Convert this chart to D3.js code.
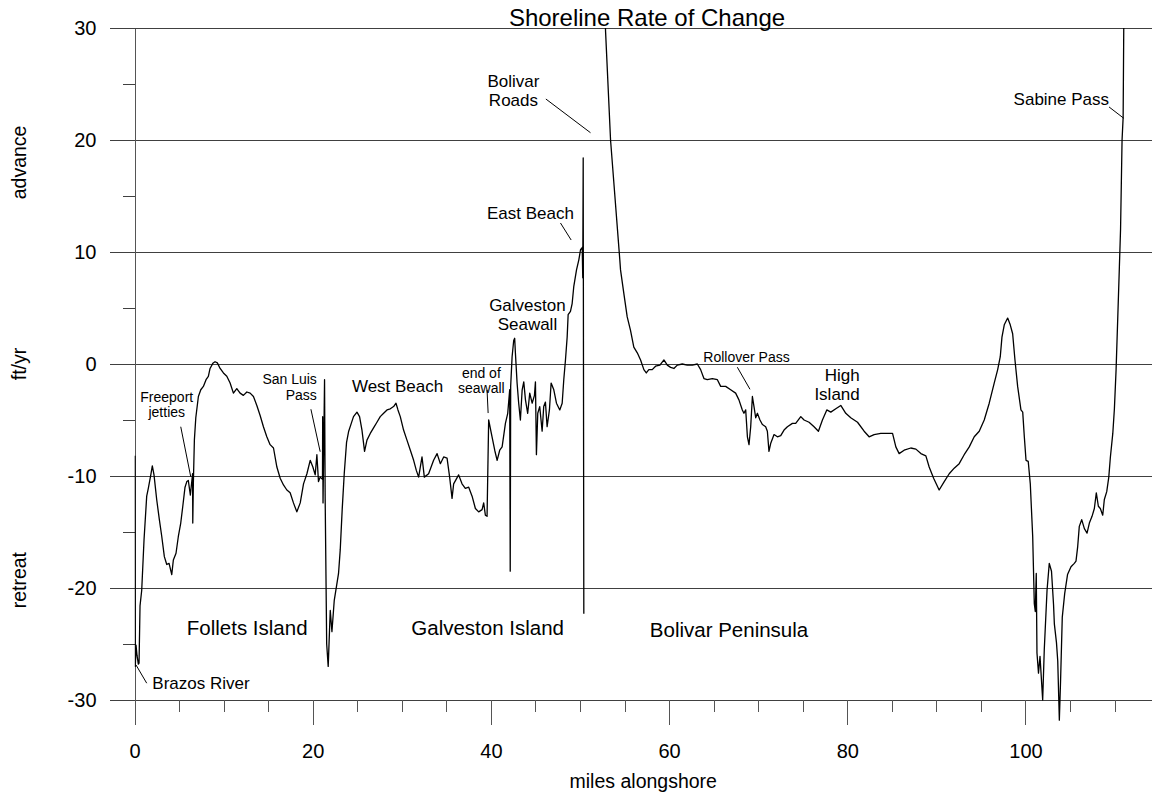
<!DOCTYPE html>
<html lang="en">
<head>
    <meta charset="UTF-8">
    <script src="https://cdnjs.cloudflare.com/ajax/libs/d3/7.8.5/d3.min.js"></script>
    <title>Shoreline Rate of Change</title>
    <style>
        body {
            margin: 0;
            background: white;
        }
        svg text {
            font-family: 'Liberation Sans', Arial, sans-serif;
            fill: black;
        }
        .grid line {
            stroke: #404040;
            stroke-width: 1px;
        }
        .rate {
            fill: none;
            stroke: black;
            stroke-width: 1.3px;
            stroke-linejoin: round;
        }
        .leader {
            stroke: black;
            stroke-width: 1px;
        }
    </style>
</head>

<body>
    <div id="chart"></div>

    <script>
        // [miles alongshore, ft/yr]
        // Brazos River to Bolivar Roads (Follets + Galveston islands)
        const westOfBolivarRoads = [
            [0.06, -8.2], [0.09, -27.0], [0.17, -25.1], [0.28, -26.0], [0.43, -26.8], [0.51, -26.7],
            [0.62, -21.6], [0.81, -20.2], [1.07, -15.7], [1.37, -11.8], [1.55, -11.1], [1.85, -9.8],
            [2.00, -9.1], [2.19, -9.9], [2.49, -12.1], [2.79, -13.9], [3.06, -15.4], [3.35, -17.2],
            [3.62, -17.9], [3.88, -17.8], [4.18, -18.8], [4.36, -17.5], [4.66, -16.9], [4.92, -15.4],
            [5.19, -14.2], [5.42, -12.7], [5.67, -11.0], [5.87, -10.5], [6.04, -10.4], [6.27, -11.7],
            [6.52, -9.8], [6.54, -14.2], [6.61, -10.5], [6.72, -6.8], [6.88, -4.8], [7.17, -2.9],
            [7.44, -2.3], [7.73, -2.0], [8.03, -1.4], [8.29, -1.1], [8.48, -0.4], [8.79, 0.06],
            [9.04, 0.2], [9.30, 0.1], [9.61, -0.4], [9.98, -0.8], [10.36, -1.1], [10.73, -1.7],
            [11.10, -2.6], [11.48, -2.2], [11.85, -2.6], [12.22, -2.8], [12.61, -2.5], [12.98, -2.6],
            [13.35, -2.9], [13.73, -3.7], [14.10, -4.6], [14.47, -5.6], [14.85, -6.5], [15.22, -7.2],
            [15.60, -7.5], [15.98, -9.2], [16.35, -10.2], [16.72, -10.8], [17.10, -11.25], [17.47, -11.5],
            [17.84, -12.4], [18.22, -13.2], [18.60, -12.4], [18.97, -10.7], [19.35, -9.8], [19.72, -8.6],
            [20.02, -9.2], [20.28, -9.9], [20.47, -8.1], [20.65, -10.5], [20.84, -10.1], [21.10, -10.3],
            [21.12, -4.7], [21.16, -12.4], [21.33, -1.4], [21.40, -12.0], [21.57, -25.0], [21.74, -27.0],
            [21.97, -22.0], [22.16, -23.9], [22.42, -21.1], [22.90, -18.7], [23.09, -16.6], [23.31, -13.0],
            [23.54, -9.8], [23.80, -7.0], [24.04, -6.0], [24.33, -5.3], [24.58, -4.7], [24.97, -4.3],
            [25.26, -4.7], [25.53, -5.9], [25.82, -7.8], [26.09, -6.8], [26.46, -6.2], [26.83, -5.7],
            [27.21, -5.2], [27.58, -4.7], [27.96, -4.4], [28.34, -4.1], [28.71, -4.0], [29.08, -3.8],
            [29.35, -3.5], [29.57, -4.1], [29.83, -4.7], [30.20, -5.9], [30.58, -6.8], [30.96, -7.7],
            [31.33, -8.6], [31.63, -9.5], [31.89, -10.1], [32.27, -8.3], [32.53, -10.1], [33.01, -9.8],
            [33.57, -8.6], [33.96, -8.0], [34.33, -8.9], [34.70, -8.3], [35.08, -8.4], [35.37, -10.1],
            [35.64, -12.0], [35.82, -10.7], [36.38, -9.9], [36.76, -10.7], [37.13, -11.1], [37.51, -11.0],
            [37.89, -11.8], [38.26, -12.9], [38.63, -13.2], [39.01, -13.0], [39.19, -12.4], [39.38, -13.5],
            [39.57, -13.6], [39.75, -5.0], [40.13, -6.5], [40.43, -7.7], [40.70, -8.6], [40.99, -7.7],
            [41.26, -7.4], [41.63, -5.3], [41.89, -4.4], [42.11, -2.3], [42.17, -18.5], [42.22, -2.0],
            [42.38, 0.65], [42.56, 2.1], [42.67, 2.3], [42.75, 1.0], [42.94, -1.7], [43.12, -3.5],
            [43.31, -5.0], [43.51, -2.3], [43.69, -1.6], [43.88, -3.2], [44.13, -4.4], [44.36, -2.6],
            [44.63, -3.5], [44.89, -2.8], [45.00, -1.6], [45.11, -8.1], [45.26, -4.4], [45.48, -3.8],
            [45.75, -6.0], [45.93, -3.8], [46.12, -3.4], [46.31, -5.6], [46.57, -4.1], [46.76, -1.7],
            [47.06, -2.3], [47.36, -3.5], [47.73, -4.1], [48.00, -3.5], [48.18, -1.4], [48.37, 0.36],
            [48.56, 2.4], [48.67, 4.4], [48.93, 4.7], [49.12, 5.4], [49.30, 6.9], [49.61, 8.4],
            [49.87, 9.3], [50.06, 10.2], [50.25, 10.4], [50.31, 7.7], [50.36, 18.4], [50.43, -22.3]
        ];

        // Bolivar Roads to Sabine Pass (Bolivar Peninsula and beyond)
        const eastOfBolivarRoads = [
            [52.70, 35.0], [52.87, 29.7], [53.43, 20.0], [54.47, 9.3], [54.55, 8.4], [54.92, 6.3],
            [55.30, 4.2], [55.67, 3.0], [56.04, 1.5], [56.43, 1.0], [56.80, 0.36], [57.17, -0.5],
            [57.44, -0.8], [57.73, -0.5], [58.11, -0.5], [58.48, -0.2], [58.97, -0.1], [59.42, 0.36],
            [59.80, -0.1], [60.17, -0.3], [60.54, -0.4], [60.92, -0.1], [61.48, 0.0], [62.04, -0.1],
            [62.61, -0.1], [63.17, 0.0], [63.54, -0.5], [63.91, -1.3], [64.29, -1.4], [64.85, -1.3],
            [65.42, -1.4], [65.79, -2.0], [66.35, -2.0], [66.91, -2.3], [67.47, -2.6], [67.84, -3.2],
            [68.22, -4.1], [68.40, -4.4], [68.60, -4.1], [68.79, -6.5], [68.97, -7.2], [69.16, -5.6],
            [69.35, -2.9], [69.53, -3.8], [69.72, -4.8], [69.91, -4.4], [70.20, -5.0], [70.47, -5.4],
            [70.84, -5.6], [71.03, -6.0], [71.21, -7.8], [71.40, -7.1], [71.78, -6.3], [72.16, -6.5],
            [72.53, -6.4], [72.90, -5.9], [73.28, -5.6], [73.84, -5.3], [74.21, -5.3], [74.78, -4.7],
            [75.15, -5.0], [75.71, -5.2], [76.27, -5.6], [76.76, -6.0], [77.21, -5.0], [77.70, -4.1],
            [78.15, -4.3], [78.71, -4.0], [79.27, -3.7], [79.83, -4.4], [80.39, -4.8], [81.15, -5.2],
            [81.89, -6.0], [82.45, -6.5], [83.01, -6.3], [83.76, -6.2], [84.52, -6.2], [85.08, -6.2],
            [85.45, -7.4], [85.82, -8.0], [86.38, -7.7], [87.13, -7.5], [87.70, -7.6], [88.26, -8.0],
            [88.82, -8.2], [89.19, -9.2], [89.69, -10.2], [90.31, -11.25], [90.88, -10.5], [91.44, -9.8],
            [92.00, -9.3], [92.56, -8.9], [93.12, -8.1], [93.69, -7.4], [94.25, -6.5], [94.81, -6.0],
            [95.37, -5.0], [95.93, -3.5], [96.49, -1.7], [96.88, -0.5], [97.17, 0.65], [97.36, 2.4],
            [97.62, 3.5], [98.00, 4.1], [98.29, 3.5], [98.56, 2.7], [98.82, 0.36], [99.12, -2.0],
            [99.49, -4.1], [99.69, -4.3], [99.87, -6.5], [100.06, -8.6], [100.31, -8.7], [100.54, -10.7],
            [100.81, -15.4], [100.99, -21.4], [101.10, -22.1], [101.21, -18.7], [101.29, -25.8], [101.46, -27.6],
            [101.63, -26.1], [101.93, -30.0], [102.11, -25.5], [102.42, -20.2], [102.67, -17.8], [102.92, -18.5],
            [103.15, -21.5], [103.24, -23.2], [103.48, -24.9], [103.62, -26.5], [103.73, -29.7], [103.80, -31.8],
            [103.93, -28.5], [104.13, -22.6], [104.40, -20.5], [104.72, -18.8], [105.11, -18.1], [105.48, -17.8],
            [105.67, -17.6], [105.86, -16.3], [106.04, -14.5], [106.31, -13.9], [106.61, -14.7], [106.91, -15.1],
            [107.17, -14.2], [107.47, -13.6], [107.73, -12.9], [107.95, -11.5], [108.18, -12.7], [108.40, -12.9],
            [108.67, -13.5], [108.85, -12.1], [109.12, -11.4], [109.35, -10.1], [109.53, -8.3], [109.80, -6.2],
            [109.98, -4.0], [110.17, -0.5], [110.36, 4.2], [110.54, 8.7], [110.67, 12.0], [110.84, 20.0],
            [110.96, 22.0], [111.03, 30.0], [111.07, 35.0]
        ];

        const yMajorTicks = [-30, -20, -10, 0, 10, 20, 30];
        const yMinorTicks = [-25, -15, -5, 5, 15, 25];
        const xMajorTicks = [0, 20, 40, 60, 80, 100];
        const xMinorTicks = [5, 10, 15, 25, 30, 35, 45, 50, 55, 65, 70, 75, 85, 90, 95, 105, 110];

        // labels on the chart, anchored at [mile, ft/yr]
        const placeLabels = [
            { lines: ["Bolivar", "Roads"], mile: 42.53, rate: 24.73, anchor: "middle", kind: "mid" },
            { lines: ["East Beach"], mile: 44.44, rate: 12.95, anchor: "middle", kind: "mid" },
            { lines: ["Sabine Pass"], mile: 109.38, rate: 23.13, anchor: "end", kind: "mid" },
            { lines: ["Galveston", "Seawall"], mile: 44.1, rate: 4.76, anchor: "middle", kind: "mid" },
            { lines: ["end of", "seawall"], mile: 38.93, rate: -1.22, anchor: "middle", kind: "small" },
            { lines: ["West Beach"], mile: 24.4, rate: -2.47, anchor: "start", kind: "mid" },
            { lines: ["San Luis", "Pass"], mile: 20.47, rate: -1.81, anchor: "end", kind: "small" },
            { lines: ["Freeport", "jetties"], mile: 3.62, rate: -3.37, anchor: "middle", kind: "small" },
            { lines: ["Rollover Pass"], mile: 63.84, rate: 0.15, anchor: "start", kind: "small" },
            { lines: ["High", "Island"], mile: 81.4, rate: -1.52, anchor: "end", kind: "mid" },
            { lines: ["Brazos River"], mile: 2.0, rate: -29.06, anchor: "start", kind: "mid" },
            { lines: ["Follets Island"], mile: 5.87, rate: -24.2, anchor: "start", kind: "big" },
            { lines: ["Galveston Island"], mile: 31.07, rate: -24.2, anchor: "start", kind: "big" },
            { lines: ["Bolivar Peninsula"], mile: 57.84, rate: -24.35, anchor: "start", kind: "big" }
        ];

        const leaderLines = [
            [[46.17, 23.66], [51.18, 20.65]],
            [[47.81, 12.59], [49.01, 11.07]],
            [[109.38, 22.95], [111.03, 21.94]],
            [[39.57, -2.32], [39.69, -4.38]],
            [[19.8, -4.04], [20.84, -7.83]],
            [[5.19, -5.6], [6.31, -10.06]],
            [[67.66, -0.29], [69.08, -2.26]],
            [[0.17, -26.87], [1.37, -28.5]]
        ];

        const fontSizes = { small: 14, mid: 17, big: 20.5 };

        const width = 1154;
        const height = 795;
        const margin = { top: 28, right: 2, bottom: 95, left: 134.5 };

        const svg = d3.select("#chart").append("svg")
            .attr("width", width)
            .attr("height", height);

        const x = d3.scaleLinear()
            .domain([0, 114.2])
            .range([margin.left, width - margin.right]);

        const y = d3.scaleLinear()
            .domain([-30, 30])
            .range([height - margin.bottom, margin.top]);

        // plain hyphen for negatives, like the original
        const plainNumber = d => String(d);

        // horizontal grid, starting at the end of the long ticks
        svg.append("g")
            .attr("class", "grid")
            .selectAll("line")
            .data(yMajorTicks)
            .join("line")
            .attr("x1", margin.left - 25)
            .attr("x2", width - margin.right)
            .attr("y1", d => y(d))
            .attr("y2", d => y(d))
            .attr("shape-rendering", "crispEdges");

        // y axis
        const yAxis = svg.append("g")
            .attr("transform", `translate(${margin.left},0)`)
            .call(d3.axisLeft(y).tickValues(yMajorTicks).tickFormat(plainNumber)
                .tickSize(25).tickSizeOuter(0).tickPadding(13));
        yAxis.select(".domain").attr("stroke", "#555").attr("shape-rendering", "crispEdges");
        yAxis.selectAll(".tick line").attr("stroke", "#404040").attr("shape-rendering", "crispEdges");
        yAxis.selectAll(".tick text").style("font-size", "20px").style("font-family", "'Liberation Sans', Arial, sans-serif");

        svg.append("g")
            .attr("transform", `translate(${margin.left},0)`)
            .call(d3.axisLeft(y).tickValues(yMinorTicks).tickSize(12).tickFormat(""))
            .call(g => g.select(".domain").remove())
            .selectAll(".tick line").attr("stroke", "#404040").attr("shape-rendering", "crispEdges");

        // x axis
        const xAxis = svg.append("g")
            .attr("transform", `translate(0,${y(-30)})`)
            .call(d3.axisBottom(x).tickValues(xMajorTicks).tickFormat(plainNumber)
                .tickSize(25).tickSizeOuter(0).tickPadding(19));
        xAxis.select(".domain").remove();
        xAxis.selectAll(".tick line").attr("stroke", "#555").attr("shape-rendering", "crispEdges");
        xAxis.selectAll(".tick text").style("font-size", "20px").style("font-family", "'Liberation Sans', Arial, sans-serif");

        svg.append("g")
            .attr("transform", `translate(0,${y(-30)})`)
            .call(d3.axisBottom(x).tickValues(xMinorTicks).tickSize(12).tickFormat(""))
            .call(g => g.select(".domain").remove())
            .selectAll(".tick line").attr("stroke", "#555").attr("shape-rendering", "crispEdges");

        // clip only the top, the trace dips below -30 near mile 104
        svg.append("clipPath")
            .attr("id", "plot-clip")
            .append("rect")
            .attr("x", margin.left)
            .attr("y", margin.top)
            .attr("width", width - margin.left - margin.right)
            .attr("height", height - margin.top);

        const rateLine = d3.line()
            .x(d => x(d[0]))
            .y(d => y(d[1]));

        svg.append("g")
            .attr("clip-path", "url(#plot-clip)")
            .selectAll("path")
            .data([westOfBolivarRoads, eastOfBolivarRoads])
            .join("path")
            .attr("class", "rate")
            .attr("d", rateLine);

        // leaders
        svg.append("g")
            .selectAll("line")
            .data(leaderLines)
            .join("line")
            .attr("class", "leader")
            .attr("x1", d => x(d[0][0]))
            .attr("y1", d => y(d[0][1]))
            .attr("x2", d => x(d[1][0]))
            .attr("y2", d => y(d[1][1]));

        // place names
        const labels = svg.append("g")
            .selectAll("text")
            .data(placeLabels)
            .join("text")
            .attr("text-anchor", d => d.anchor)
            .style("font-size", d => fontSizes[d.kind] + "px")
            .attr("x", d => x(d.mile))
            .attr("y", d => y(d.rate));

        labels.selectAll("tspan")
            .data(d => d.lines.map((t, i) => ({ t, i, d })))
            .join("tspan")
            .attr("x", o => x(o.d.mile))
            .attr("dy", o => o.i === 0 ? 0 : "1.12em")
            .text(o => o.t);

        // title and axis titles
        svg.append("text")
            .attr("x", 647)
            .attr("y", 26)
            .attr("text-anchor", "middle")
            .style("font-size", "24px")
            .text("Shoreline Rate of Change");

        svg.append("text")
            .attr("x", (margin.left + width - margin.right) / 2)
            .attr("y", 788)
            .attr("text-anchor", "middle")
            .style("font-size", "19.5px")
            .text("miles alongshore");

        const sideLabels = [
            { text: "advance", rate: 18 },
            { text: "ft/yr", rate: 0 },
            { text: "retreat", rate: -19.3 }
        ];

        svg.append("g")
            .selectAll("text")
            .data(sideLabels)
            .join("text")
            .attr("text-anchor", "middle")
            .style("font-size", "19.5px")
            .attr("transform", d => `translate(26,${y(d.rate)}) rotate(-90)`)
            .text(d => d.text);
    </script>
</body>
</html>
